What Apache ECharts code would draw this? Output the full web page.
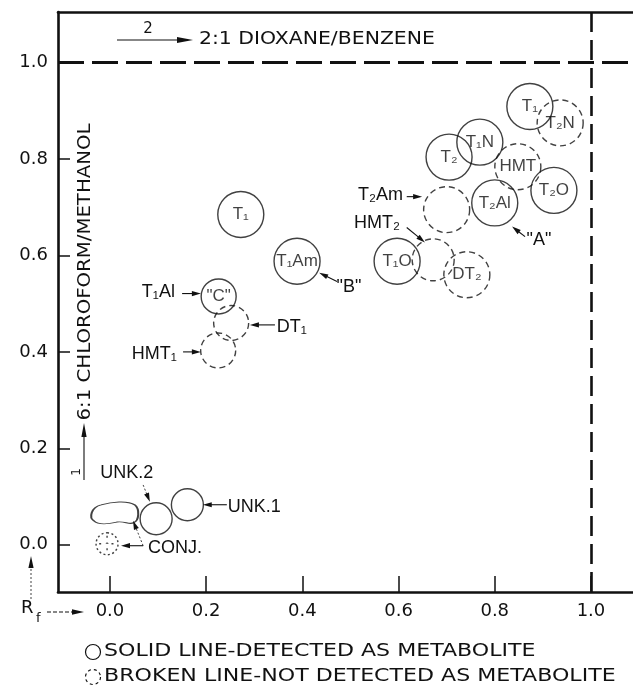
<!DOCTYPE html>
<html><head><meta charset="utf-8">
<script src="https://cdn.jsdelivr.net/npm/echarts@6/dist/echarts.min.js"></script>
<style>html,body{margin:0;padding:0;background:#fff}#c{width:633px;height:688px}</style>
</head><body><div id="c"></div>
<script>
// ---------- DATA ----------
const spotNames = ['T1','T1Am','T1Al','DT1','HMT1','T2','T1N','T1b','T2N','HMT','T2Al','T2O','T2Am','T1O','HMT2','DT2','UNK.2','UNK.1','UNK.blob','CONJ.'];
const spotLabels = ['T\u2081','T\u2081Am','"C"','','','T\u2082','T\u2081N','T\u2081','T\u2082N','HMT','T\u2082Al','T\u2082O','','T\u2081O','','DT\u2082','','','',''];
const spotX = [0.272,0.389,0.226,0.252,0.225,0.705,0.769,0.873,0.936,0.848,0.800,0.923,0.700,0.597,0.672,0.742,0.096,0.161,0.010,-0.006];
const spotY = [0.685,0.588,0.515,0.460,0.403,0.804,0.835,0.909,0.875,0.784,0.709,0.735,0.695,0.588,0.591,0.560,0.054,0.083,0.066,0.002];
const spotDetected = [1,1,1,0,0,1,1,1,0,0,1,1,0,1,0,0,1,1,1,0];
const xTicks = [0,0.2,0.4,0.6,0.8,1.0];
const yTicks = [0,0.2,0.4,0.6,0.8,1.0];
const xTickLabels = ['0.0','0.2','0.4','0.6','0.8','1.0'];
const yTickLabels = ['0.0','0.2','0.4','0.6','0.8','1.0'];
const solventFront = 1.0;
const xTitle = '2:1 DIOXANE/BENZENE';
const yTitle = '6:1 CHLOROFORM/METHANOL';
const legendSolid = 'SOLID LINE-DETECTED AS METABOLITE';
const legendBroken = 'BROKEN LINE-NOT DETECTED AS METABOLITE';
// pointer annotations (text, data-space anchor)
const annText = ['T\u2081Al','DT\u2081','HMT\u2081','"B"','T\u2082Am','HMT\u2082','"A"','UNK.2','UNK.1','CONJ.'];
const annX = [0.135,0.347,0.139,0.497,0.609,0.555,0.892,0.035,0.245,0.079];
const annY = [0.525,0.452,0.396,0.535,0.726,0.668,0.633,0.149,0.079,-0.006];
const annAlign = ['right','left','right','center','right','center','center','center','left','left'];
const arrowFrom = [[0.150,0.521],[0.343,0.456],[0.152,0.400],[0.472,0.546],[0.617,0.722],[0.617,0.658],[0.863,0.639],[0.069,0.124],[0.243,0.083],[0.069,-0.002],[0.069,-0.002]];
const arrowTo   = [[0.189,0.521],[0.291,0.456],[0.189,0.400],[0.435,0.564],[0.649,0.722],[0.655,0.627],[0.836,0.660],[0.083,0.089],[0.193,0.083],[0.023,-0.002],[0.048,0.050]];

// ---------- STYLE ----------
const DFONT = "'DejaVu Sans', sans-serif";
const LFONT = "'Liberation Sans', 'DejaVu Sans', sans-serif";
const INK = '#111';
const spotSize = {'T1Al':35,'DT1':35,'HMT1':35,'HMT2':42,'UNK.2':32,'UNK.1':32,'UNK.blob':[47,22],'CONJ.':22};
const spotShape = {
  'UNK.blob':'path://M10,35 C0,30 4,12 24,8 C45,3 75,0 90,8 C100,15 99,34 88,38 C80,42 70,35 55,37 C40,40 20,43 10,35 Z',
  'CONJ.':'path://M50,0 A50,50 0 1,1 49.9,0 Z M50,14 L50,30 M50,70 L50,86 M14,50 L30,50 M70,50 L86,50 M47,50 A3,3 0 1,1 53,50 A3,3 0 1,1 47,50 Z'
};

const chart = echarts.init(document.getElementById('c'), null, {renderer:'canvas'});
const xMin = -0.108, xMax = -0.108 + 575/481, yMin = -0.098, yMax = 1.105;
const fmt = (ticks, labels) => v => {const i=ticks.findIndex(t=>Math.abs(t-v)<1e-6);return i>=0?labels[i]:'';};
const option = {
  animation:false,
  backgroundColor:'#fff',
  grid:{left:58, top:12, right:0, bottom:688-592, show:false, containLabel:false},
  xAxis:[{type:'value', position:'bottom', min:xMin, max:xMax, splitLine:{show:false},
    axisLine:{show:true, onZero:false, lineStyle:{color:INK,width:2.6}},
    axisTick:{show:true, inside:true, length:16, customValues:xTicks, lineStyle:{color:INK,width:1.5}},
    axisLabel:{show:true, margin:10, color:INK, fontFamily:DFONT, fontSize:18, customValues:xTicks, formatter:fmt(xTicks,xTickLabels)}},
   {type:'value', position:'top', min:xMin, max:xMax, splitLine:{show:false},
    axisLine:{show:true, onZero:false, lineStyle:{color:INK,width:2.6}}, axisTick:{show:false}, axisLabel:{show:false}}],
  yAxis:{type:'value', min:yMin, max:yMax, splitLine:{show:false},
    axisLine:{show:true, onZero:false, lineStyle:{color:INK,width:2.6}},
    axisTick:{show:true, inside:true, length:12, customValues:yTicks, lineStyle:{color:INK,width:1.5}},
    axisLabel:{show:true, margin:10, color:INK, fontFamily:DFONT, fontSize:18, customValues:yTicks, formatter:fmt(yTicks,yTickLabels)}},
  series:[{
    type:'scatter', silent:true, z:5, xAxisIndex:0, yAxisIndex:0,
    emphasis:{disabled:true},
    data: spotNames.map((n,i)=>({
      name:n, value:[spotX[i],spotY[i]],
      symbol: spotShape[n]||'circle',
      symbolSize: spotSize[n]||46,
      itemStyle:{color:'transparent', borderColor:INK, borderWidth:1.4,
        borderType: spotDetected[i]?'solid':(n==='CONJ.'?[2,2.5]:[6,4])},
      label:{show:!!spotLabels[i], position:'inside', formatter:spotLabels[i], color:INK, fontFamily:LFONT, fontSize:17}
    })),
    markLine:{silent:true, symbol:'none', animation:false, label:{show:false},
      data:[
        {xAxis:solventFront, lineStyle:{color:INK, width:2.6, type:[20,8]}},
        {yAxis:solventFront, lineStyle:{color:INK, width:3.2, type:[26,8]}}
      ]}
  }]
};
chart.setOption(option);

function P(x,y){return chart.convertToPixel({xAxisIndex:0,yAxisIndex:0},[x,y]);}
function arrowEls(p1,p2,o){
  o=o||{};
  const dx=p2[0]-p1[0], dy=p2[1]-p1[1], L=Math.hypot(dx,dy), ux=dx/L, uy=dy/L;
  const hl=o.hl||9, hw=o.hw||2.6;
  const bx=p2[0]-ux*hl, by=p2[1]-uy*hl;
  return [
    {type:'line', silent:true, z:20, shape:{x1:p1[0],y1:p1[1],x2:bx+ux*1,y2:by+uy*1}, style:{stroke:INK, lineWidth:o.lw||1.1, lineDash:o.dash||null}},
    {type:'polygon', silent:true, z:20, shape:{points:[[p2[0],p2[1]],[bx-uy*hw,by+ux*hw],[bx+uy*hw,by-ux*hw]]}, style:{fill:INK}}
  ];
}
const g = [];
annText.forEach((t,i)=>{
  const p=P(annX[i],annY[i]);
  g.push({type:'text', silent:true, z:20, x:p[0], y:p[1], style:{text:t, x:0, y:0, align:annAlign[i], verticalAlign:'middle', font:'18px '+LFONT, fill:INK}});
});
arrowFrom.forEach((f,i)=>{
  const dotted = (i===7||i===10);
  g.push(...arrowEls(P(f[0],f[1]),P(arrowTo[i][0],arrowTo[i][1]),{dash:dotted?[2,2]:null, lw:dotted?0.8:1.1}));
});
// top title with arrow "2"
g.push(...arrowEls([117,40],[193,40],{hl:16,hw:3}));
g.push({type:'text', silent:true, x:148, y:29, style:{text:'2', x:0,y:0, align:'center', verticalAlign:'middle', font:'15px '+DFONT, fill:INK}});
g.push({type:'text', silent:true, x:199, y:40, scaleX:1.2, style:{text:xTitle, x:0,y:0, align:'left', verticalAlign:'middle', font:'17px '+DFONT, fill:INK}});
// rotated y title with arrow "1"
g.push({type:'text', silent:true, x:86, y:272, rotation:Math.PI/2, scaleX:1.16, style:{text:yTitle, x:0,y:0, align:'center', verticalAlign:'middle', font:'17px '+DFONT, fill:INK}});
g.push(...arrowEls([84,480],[84,423],{hl:14,hw:2.6}));
g.push({type:'text', silent:true, x:77, y:472, rotation:Math.PI/2, style:{text:'1', x:0,y:0, align:'center', verticalAlign:'middle', font:'12px '+DFONT, fill:INK}});
// Rf
g.push({type:'text', silent:true, x:21, y:608, style:{text:'R', x:0,y:0, align:'left', verticalAlign:'middle', font:'18px '+DFONT, fill:INK}});
g.push({type:'text', silent:true, x:36, y:619, style:{text:'f', x:0,y:0, align:'left', verticalAlign:'middle', font:'13px '+DFONT, fill:INK}});
g.push(...arrowEls([47,612],[84,612],{hl:12,hw:2.8,dash:[4,2]}));
g.push(...arrowEls([31,599],[31,556],{hl:12,hw:2.6,dash:[2,2],lw:0.8}));
// legend
g.push({type:'circle', silent:true, shape:{cx:93,cy:652,r:7.5}, style:{fill:'none', stroke:INK, lineWidth:1.2}});
g.push({type:'circle', silent:true, shape:{cx:93,cy:677,r:7.5}, style:{fill:'none', stroke:INK, lineWidth:1.2, lineDash:[3,3]}});
g.push({type:'text', silent:true, x:104, y:652, scaleX:1.3, style:{text:legendSolid, x:0,y:0, align:'left', verticalAlign:'middle', font:'17px '+DFONT, fill:INK}});
g.push({type:'text', silent:true, x:104, y:677, scaleX:1.3, style:{text:legendBroken, x:0,y:0, align:'left', verticalAlign:'middle', font:'17px '+DFONT, fill:INK}});
chart.setOption({graphic:{elements:g}});
</script>
</body></html>
